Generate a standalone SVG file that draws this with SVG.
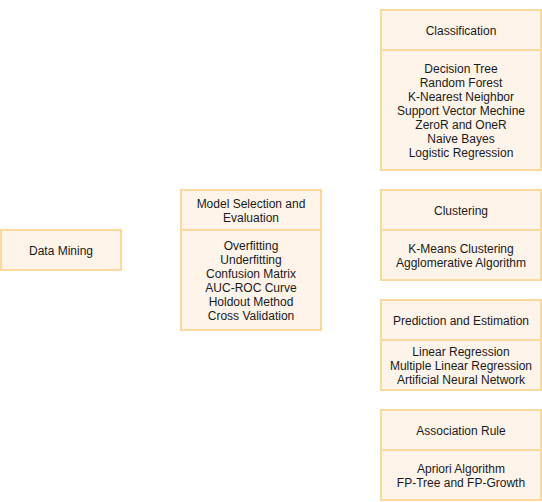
<svg xmlns="http://www.w3.org/2000/svg" width="542" height="502" viewBox="0 0 542 502">
<style>
.box{fill:#fff4e9;stroke:#f9d99d;stroke-width:2}
.t{font-family:"Liberation Sans",Arial,Helvetica,sans-serif;font-size:12px;fill:#1a1a1a;text-anchor:middle}
</style>
<rect width="542" height="502" fill="#ffffff"/>
<g id="connectors"></g>
<g id="data-mining">
<rect class="box" x="1" y="230" width="120" height="40"/>
<text class="t" x="61" y="255">Data Mining</text>
</g>
<g id="model-selection">
<rect class="box" x="181" y="190" width="140" height="40"/>
<rect class="box" x="181" y="230" width="140" height="100"/>
<text class="t" x="251" y="208">Model Selection and</text>
<text class="t" x="251" y="222">Evaluation</text>
<text class="t" x="251" y="250">Overfitting</text>
<text class="t" x="251" y="264">Underfitting</text>
<text class="t" x="251" y="278">Confusion Matrix</text>
<text class="t" x="251" y="292">AUC-ROC Curve</text>
<text class="t" x="251" y="306">Holdout Method</text>
<text class="t" x="251" y="320">Cross Validation</text>
</g>
<g id="classification">
<rect class="box" x="381" y="10" width="160" height="40"/>
<rect class="box" x="381" y="50" width="160" height="120"/>
<text class="t" x="461" y="35">Classification</text>
<text class="t" x="461" y="73">Decision Tree</text>
<text class="t" x="461" y="87">Random Forest</text>
<text class="t" x="461" y="101">K-Nearest Neighbor</text>
<text class="t" x="461" y="115">Support Vector Mechine</text>
<text class="t" x="461" y="129">ZeroR and OneR</text>
<text class="t" x="461" y="143">Naive Bayes</text>
<text class="t" x="461" y="157">Logistic Regression</text>
</g>
<g id="clustering">
<rect class="box" x="381" y="190" width="160" height="40"/>
<rect class="box" x="381" y="230" width="160" height="50"/>
<text class="t" x="461" y="215">Clustering</text>
<text class="t" x="461" y="253">K-Means Clustering</text>
<text class="t" x="461" y="267">Agglomerative Algorithm</text>
</g>
<g id="prediction">
<rect class="box" x="381" y="300" width="160" height="40"/>
<rect class="box" x="381" y="340" width="160" height="50"/>
<text class="t" x="461" y="325">Prediction and Estimation</text>
<text class="t" x="461" y="356">Linear Regression</text>
<text class="t" x="461" y="370">Multiple Linear Regression</text>
<text class="t" x="461" y="384">Artificial Neural Network</text>
</g>
<g id="association">
<rect class="box" x="381" y="410" width="160" height="40"/>
<rect class="box" x="381" y="450" width="160" height="50"/>
<text class="t" x="461" y="435">Association Rule</text>
<text class="t" x="461" y="473">Apriori Algorithm</text>
<text class="t" x="461" y="487">FP-Tree and FP-Growth</text>
</g>
</svg>
